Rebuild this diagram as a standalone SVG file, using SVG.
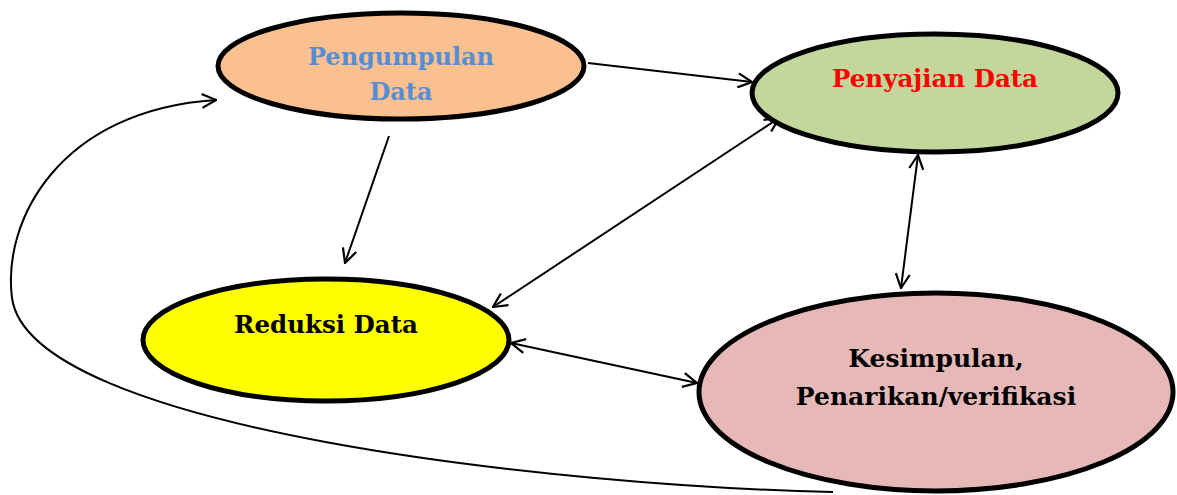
<svg xmlns="http://www.w3.org/2000/svg" width="1177" height="495" viewBox="0 0 1177 495">
<style>
.node{stroke:#000;stroke-width:5}
.lbl{font-family:"DejaVu Serif","Liberation Serif",serif;font-weight:bold;font-size:24.5px;text-anchor:middle}
.con{fill:none;stroke:#000;stroke-width:2}
</style>
<defs>
<marker id="ah" viewBox="0 0 16 16" refX="15" refY="8" markerWidth="16" markerHeight="16" markerUnits="userSpaceOnUse" orient="auto-start-reverse">
<path d="M1,1 L15,8 L1,15" fill="none" stroke="#000" stroke-width="2.2"/>
</marker>
</defs>
<rect width="1177" height="495" fill="#fff"/>
<g id="connectors">
<path class="con" d="M588,63 L752,82" marker-end="url(#ah)"/>
<path class="con" d="M389,136 L345,263" marker-end="url(#ah)"/>
<path class="con" d="M779,118 L493,307" marker-start="url(#ah)" marker-end="url(#ah)"/>
<path class="con" d="M918,155 L901,288" marker-start="url(#ah)" marker-end="url(#ah)"/>
<path class="con" d="M511,343 L697,383" marker-start="url(#ah)" marker-end="url(#ah)"/>
<path class="con" d="M833,492 C560,486 30,430 12,298 C2,220 60,110 216,100" marker-end="url(#ah)"/>
</g>
<g id="pengumpulan">
<ellipse class="node" cx="401" cy="66" rx="183" ry="53" fill="#FAC090"/>
<text class="lbl" x="401" y="65" fill="#558ED5" style="font-size:24px">Pengumpulan</text>
<text class="lbl" x="401" y="100" fill="#558ED5" style="font-size:24px">Data</text>
</g>
<g id="penyajian">
<ellipse class="node" cx="935" cy="93" rx="183" ry="59" fill="#C3D69B"/>
<text class="lbl" x="935" y="87" fill="#FF0000">Penyajian Data</text>
</g>
<g id="reduksi">
<ellipse class="node" cx="326" cy="340" rx="183" ry="61" fill="#FFFF00"/>
<text class="lbl" x="326" y="333" fill="#000">Reduksi Data</text>
</g>
<g id="kesimpulan">
<ellipse class="node" cx="936" cy="392" rx="237" ry="99" fill="#E6B9B8"/>
<text class="lbl" x="936" y="367" fill="#000" style="font-size:25px">Kesimpulan,</text>
<text class="lbl" x="936" y="405" fill="#000" style="font-size:25px">Penarikan/verifikasi</text>
</g>
</svg>
